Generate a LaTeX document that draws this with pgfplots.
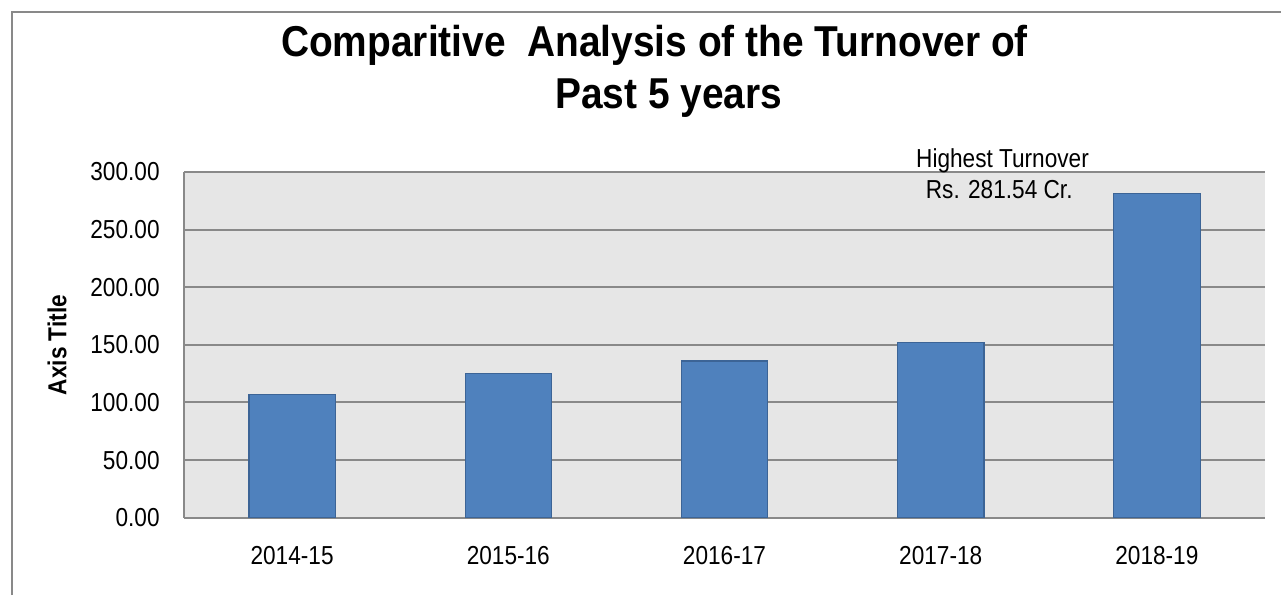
\documentclass[border=0pt]{standalone}
\usepackage{fontspec}
\setmainfont{Liberation Sans}[FakeStretch=0.87]
\newfontfamily\titlefont{Liberation Sans}[FakeStretch=0.9]
\usepackage{pgfplots}
\pgfplotsset{compat=1.18}
\definecolor{barblue}{HTML}{4F81BD}
\definecolor{baredge}{HTML}{3C6496}
\definecolor{plotbg}{HTML}{E6E6E6}
\definecolor{gridc}{HTML}{898989}
\begin{document}
\begin{tikzpicture}
\useasboundingbox (0,0) rectangle (640.5pt,297.5pt);
\draw[gridc, line width=1pt] (5.75pt,0) -- (5.75pt,291.25pt) -- (640.5pt,291.25pt);
\begin{axis}[
  at={(92pt,38.65pt)}, anchor=south west,
  scale only axis, width=540.5pt, height=172.85pt,
  xmin=-0.5, xmax=4.5, ymin=0, ymax=300,
  enlargelimits=false,
  ytick={0,50,...,300},
  xtick={0,1,2,3,4},
  xticklabels={2014-15,2015-16,2016-17,2017-18,2018-19},
  major tick length=0pt,
  axis background/.style={fill=plotbg},
  ymajorgrids, grid style={gridc, line width=1pt},
  axis x line*=bottom, axis y line*=left,
  axis line style={gridc, line width=1pt, -},
  ybar, bar width=43.2pt,
  every tick label/.append style={font=\fontsize{13}{15}\selectfont},
  yticklabel style={/pgf/number format/fixed, /pgf/number format/fixed zerofill, /pgf/number format/precision=2, /pgf/number format/assume math mode=true, anchor=east, inner sep=0pt, xshift=-12pt},
  x tick label style={anchor=north, inner sep=0pt, yshift=-14.15pt},
]
\addplot[fill=barblue, draw=baredge, line width=0.6pt] coordinates {(0,107.1) (1,125.0) (2,136.0) (3,151.9) (4,281.54)};
\end{axis}
\node[anchor=base, font=\titlefont\fontsize{21.6}{25}\selectfont\bfseries] at (327.25pt,269pt) {Comparitive\ \ Analysis of the Turnover of};
\node[anchor=base, font=\titlefont\fontsize{21.6}{25}\selectfont\bfseries] at (334.4pt,243.3pt) {Past 5 years};
\node[anchor=base, font=\fontsize{13}{15}\selectfont] at (501.25pt,213.65pt) {Highest Turnover};
\node[anchor=base, font=\fontsize{13}{15}\selectfont] at (499.6pt,198.35pt) {Rs. 281.54 Cr.};
\node[rotate=90, font=\fontsize{13}{15}\selectfont\bfseries] at (28.5pt,125pt) {Axis Title};
\end{tikzpicture}
\end{document}
